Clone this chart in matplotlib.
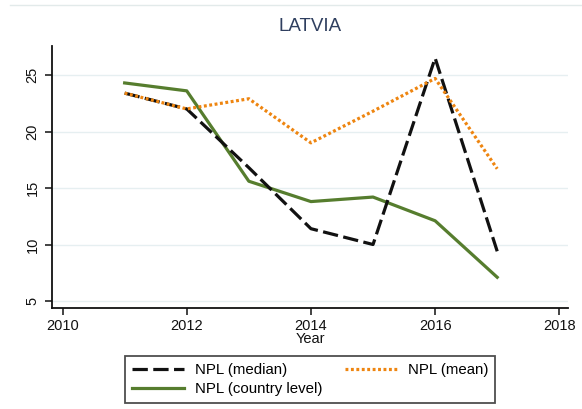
import matplotlib
matplotlib.use("Agg")
import matplotlib.pyplot as plt
from matplotlib.lines import Line2D

plt.rcParams['font.family'] = ['Liberation Sans', 'DejaVu Sans']

years = [2011, 2012, 2013, 2014, 2015, 2016, 2017]
npl_median = [23.4, 22.0, 16.8, 11.4, 10.0, 26.5, 9.4]
npl_mean = [23.4, 22.0, 22.9, 19.0, 21.8, 24.7, 16.7]
npl_country = [24.3, 23.6, 15.6, 13.8, 14.2, 12.1, 7.1]

x_ticks = [2010, 2012, 2014, 2016, 2018]
y_ticks = [5, 10, 15, 20, 25]

W, H = 582, 409
fig = plt.figure(figsize=(W / 100, H / 100), dpi=100)
ax = fig.add_axes([52 / W, 1 - 308 / H, (568 - 52) / W, (308 - 46) / H])

c_black = '#111111'
c_orange = '#ee8510'
c_green = '#567d2e'

h_med, = ax.plot(years, npl_median, color=c_black, lw=2.3, dashes=(4.8, 1.7),
                 label='NPL (median)', zorder=3)
h_mean, = ax.plot(years, npl_mean, color=c_orange, lw=2.3, dashes=(0.9, 0.8),
                  label='NPL (mean)', zorder=4)
h_cty, = ax.plot(years, npl_country, color=c_green, lw=2.3,
                 label='NPL (country level)', zorder=2)

ax.set_xlim(2009.83, 2018.14)
ax.set_ylim(4.38, 27.57)
ax.set_xticks(x_ticks)
ax.set_yticks(y_ticks)
ax.grid(axis='y', color='#e6eff1', lw=1.0)
ax.set_axisbelow(True)

for s in ['top', 'right']:
    ax.spines[s].set_visible(False)
for s in ['left', 'bottom']:
    ax.spines[s].set_linewidth(1.3)
    ax.spines[s].set_color('#111111')

ax.tick_params(axis='x', length=5, width=1.1, labelsize=10.5, pad=3, colors='#111111')
ax.tick_params(axis='y', length=5, width=1.1, labelsize=10.5, pad=4, colors='#111111')
for lab in ax.get_yticklabels():
    lab.set_rotation(90)
    lab.set_va('center')

ax.set_xlabel('Year', fontsize=10.5, labelpad=-1, color='#111111')
ax.set_title('LATVIA', fontsize=13.5, color='#2f3f5f', pad=11)

leg = fig.legend(handles=[h_med, h_cty, h_mean],
                 labels=['NPL (median)', 'NPL (country level)', 'NPL (mean)'],
                 loc='center', bbox_to_anchor=(310 / W, 1 - 379.7 / H),
                 ncol=2, fontsize=10.8, frameon=True, fancybox=False,
                 handlelength=3.5, handletextpad=0.7, columnspacing=1.5,
                 borderpad=0.45, labelspacing=0.35, borderaxespad=0)
leg.get_frame().set_edgecolor('#222222')
leg.get_frame().set_linewidth(1.3)

fig.add_artist(Line2D([10 / W, 1.0], [1 - 5 / H, 1 - 5 / H],
                      color='#e2eaea', lw=1.0, transform=fig.transFigure))

fig.savefig('out.png', dpi=100)
